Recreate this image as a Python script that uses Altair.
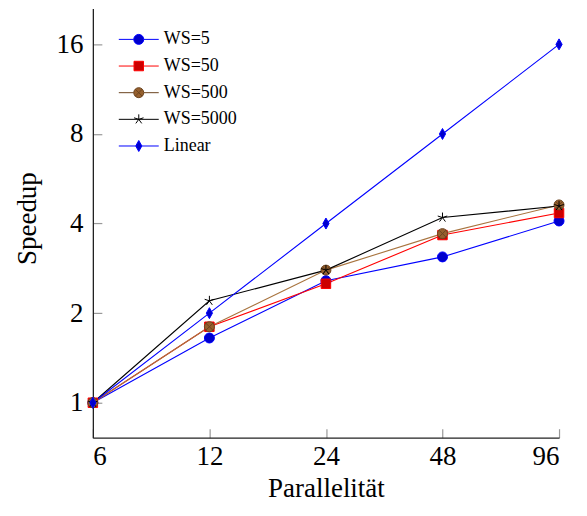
import altair as alt
import pandas as pd

# ---- data ----
x_vals = [6, 12, 24, 48, 96]
series_names = ["WS=5", "WS=50", "WS=500", "WS=5000", "Linear"]
ws5 = [1.0, 1.65, 2.57, 3.09, 4.08]
ws50 = [1.0, 1.80, 2.51, 3.66, 4.34]
ws500 = [1.0, 1.80, 2.79, 3.70, 4.62]
ws5000 = [1.0, 2.20, 2.79, 4.19, 4.58]
linear = [1, 2, 4, 8, 16]
x_ticks = [6, 12, 24, 48, 96]
y_ticks = [1, 2, 4, 8, 16]

series_values = [ws5, ws50, ws500, ws5000, linear]

rows = []
for order, (name, vals) in enumerate(zip(series_names, series_values)):
    for xv, yv in zip(x_vals, vals):
        rows.append({"x": xv, "y": yv, "series": name, "order": order})
df = pd.DataFrame(rows)

# ---- styles ----
line_colors = ["#0000ff", "#ff0000", "#a8743f", "#000000", "#0000ff"]
fill_colors = ["#0000cc", "#cc0000", "#96602e", "#000000", "#0000cc"]
stroke_colors = ["#0000ff", "#ff0000", "#6b4420", "#000000", "#0000ff"]

circle_p = "M-1,0A1,1 0 1,1 1,0A1,1 0 1,1 -1,0Z"
otimes_p = circle_p + "M-0.7,-0.7L0.7,0.7M-0.7,0.7L0.7,-0.7"
star_p = "M0,0L0,-1M0,0L0.95,-0.31M0,0L0.59,0.81M0,0L-0.59,0.81M0,0L-0.95,-0.31"
diamond_p = "M0,-1.1L0.62,0L0,1.1L-0.62,0Z"
square_p = "M-0.95,-0.95H0.95V0.95H-0.95Z"
chart_shapes = [circle_p, square_p, otimes_p, star_p, diamond_p]

legend_shapes = [
    "M-4,0H-1M1,0H4" + circle_p,
    "M-4,0H-0.95M0.95,0H4" + square_p,
    "M-4,0H-1M1,0H4" + otimes_p,
    "M-4,0H4" + star_p,
    "M-4,0H-0.62M0.62,0H4" + diamond_p,
]

FONT = "Liberation Serif"

x_enc = alt.X(
    "x:Q",
    scale=alt.Scale(type="log", base=2, domain=[6, 96], nice=False),
    axis=alt.Axis(
        values=x_ticks, format="d", title="Parallelität",
        titleY=59, titleBaseline="alphabetic",
        labelPadding=6,
        gridDash=[9, 2000], gridDashOffset=1588,
    ),
)
y_enc = alt.Y(
    "y:Q",
    scale=alt.Scale(type="log", base=2, domain=[0.763, 21.13], nice=False),
    axis=alt.Axis(
        values=y_ticks, format="d", title="Speedup",
        titleX=-57, titleY=210, titleBaseline="alphabetic", titleAngle=-90,
        labelPadding=10,
        gridDash=[9, 2000],
    ),
)

base = alt.Chart(df)

lines = base.mark_line(strokeWidth=1.1).encode(
    x=x_enc, y=y_enc,
    color=alt.Color("series:N", scale=alt.Scale(domain=series_names, range=line_colors), legend=None),
    detail="series:N",
)

points = base.mark_point(filled=True, size=100, strokeWidth=1.0, opacity=1).encode(
    x=x_enc, y=y_enc,
    shape=alt.Shape("series:N", scale=alt.Scale(domain=series_names, range=chart_shapes), legend=None),
    fill=alt.Fill("series:N", scale=alt.Scale(domain=series_names, range=fill_colors), legend=None),
    stroke=alt.Stroke("series:N", scale=alt.Scale(domain=series_names, range=stroke_colors), legend=None),
    order=alt.Order("order:Q"),
)

leg = alt.Legend(
    title=None, orient="none", legendX=37, legendY=22, direction="vertical",
    labelFont=FONT, labelFontSize=18, labelOffset=16, rowPadding=8.7,
    symbolSize=100, symbolStrokeWidth=1.0, padding=0, symbolOffset=0,
)

legend_layer = base.transform_filter("false").mark_point(filled=True, size=100, strokeWidth=1.0, opacity=1).encode(
    x=x_enc, y=y_enc,
    shape=alt.Shape("series:N", scale=alt.Scale(domain=series_names, range=legend_shapes), legend=leg),
    fill=alt.Fill("series:N", scale=alt.Scale(domain=series_names, range=fill_colors), legend=leg),
    stroke=alt.Stroke("series:N", scale=alt.Scale(domain=series_names, range=stroke_colors), legend=leg),
)

chart = (
    alt.layer(lines, points, legend_layer)
    .resolve_scale(shape="independent", fill="independent", stroke="independent")
    .properties(
        width=467, height=430,
        autosize=alt.AutoSizeParams(type="none"),
        padding={"left": 85, "top": 0, "right": 20, "bottom": 66},
    )
    .configure_view(stroke=None)
    .configure_axis(
        labelFont=FONT, labelFontSize=27, labelColor="#000",
        titleFont=FONT, titleFontSize=27, titleFontWeight="normal", titleColor="#000",
        domainColor="#222", domainWidth=1.3,
        ticks=False, tickSize=0,
        grid=True, gridColor="#999", gridWidth=1.2,
    )
)

chart.save("out.html", embed_options={"renderer": "svg", "actions": False})
